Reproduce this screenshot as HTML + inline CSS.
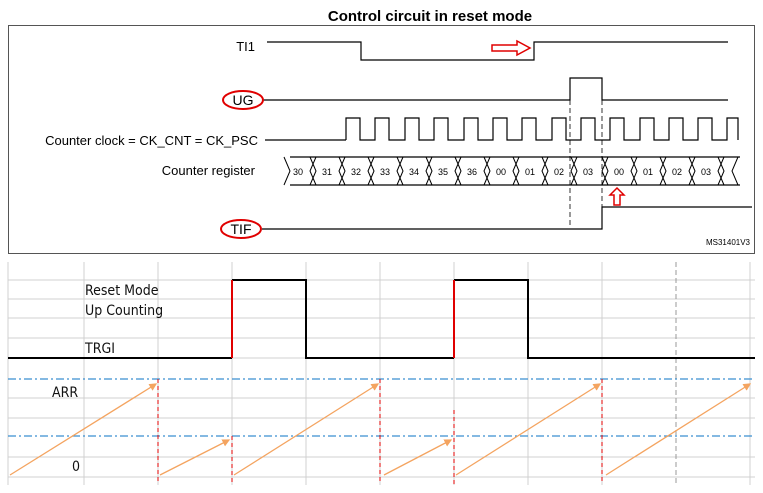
<!DOCTYPE html>
<html><head><style>body{margin:0;background:#fff}svg{display:block}</style></head><body>
<svg width="763" height="493" viewBox="0 0 763 493" xmlns="http://www.w3.org/2000/svg" font-family="Liberation Sans, Arial, sans-serif">
<defs><marker id="ar" markerWidth="6" markerHeight="6" refX="5" refY="3" orient="auto"><path d="M0,0 L6,3 L0,6 z" fill="#f4a460"/></marker></defs>
<text x="430" y="21" font-size="15" font-weight="bold" text-anchor="middle">Control circuit in reset mode</text>
<rect x="8.5" y="25.5" width="746" height="228" fill="none" stroke="#555"/>
<g fill="none" stroke="#000" stroke-width="1.2">
<path d="M267,42 H361 V60 H534 V42 H728"/>
<path d="M262,100 H570 V78 H602 V100 H728"/>
<path d="M265,140 H346"/>
<path d="M290,157 H732 M290,185 H732 M732,157 H740 M732,185 H740"/>
<path d="M262,229 H602 V207 H752"/>
</g>
<g fill="none" stroke="#000" stroke-width="1.2">
<path d="M346,140 V118 H360 V140 H375 V118 H389 V140 H405 V118 H419 V140 H434 V118 H448 V140 H464 V118 H478 V140 H493 V118 H507 V140 H522 V118 H536 V140 H552 V118 H566 V140 H581 V118 H595 V140 H610 V118 H624 V140 H640 V118 H654 V140 H669 V118 H683 V140 H698 V118 H712 V140 H727 V118 H738 V140"/>
</g>
<g fill="none" stroke="#000" stroke-width="1">
<path d="M284,157 L290,171 L284,185"/>
<path d="M738,157 L732,171 L738,185"/>
</g>
<g font-size="9" text-anchor="middle">
<text x="298" y="175">30</text><text x="327" y="175">31</text><text x="356" y="175">32</text><text x="385" y="175">33</text><text x="414" y="175">34</text><text x="443" y="175">35</text><text x="472" y="175">36</text><text x="501" y="175">00</text><text x="530" y="175">01</text><text x="559" y="175">02</text><text x="588" y="175">03</text><text x="619" y="175">00</text><text x="648" y="175">01</text><text x="677" y="175">02</text><text x="706" y="175">03</text>
</g>
<g stroke="#000" stroke-width="1" fill="none">
<path d="M310,157 L316,171 L310,185 M316,157 L310,171 L316,185"/>
<path d="M339,157 L345,171 L339,185 M345,157 L339,171 L345,185"/>
<path d="M368,157 L374,171 L368,185 M374,157 L368,171 L374,185"/>
<path d="M397,157 L403,171 L397,185 M403,157 L397,171 L403,185"/>
<path d="M426,157 L432,171 L426,185 M432,157 L426,171 L432,185"/>
<path d="M455,157 L461,171 L455,185 M461,157 L455,171 L461,185"/>
<path d="M484,157 L490,171 L484,185 M490,157 L484,171 L490,185"/>
<path d="M513,157 L519,171 L513,185 M519,157 L513,171 L519,185"/>
<path d="M542,157 L548,171 L542,185 M548,157 L542,171 L548,185"/>
<path d="M571,157 L577,171 L571,185 M577,157 L571,171 L577,185"/>
<path d="M602,157 L608,171 L602,185 M608,157 L602,171 L608,185"/>
<path d="M631,157 L637,171 L631,185 M637,157 L631,171 L637,185"/>
<path d="M660,157 L666,171 L660,185 M666,157 L660,171 L666,185"/>
<path d="M689,157 L695,171 L689,185 M695,157 L689,171 L695,185"/>
<path d="M718,157 L724,171 L718,185 M724,157 L718,171 L724,185"/>
</g>
<g stroke="#000" stroke-width="0.8" stroke-dasharray="5,3"><path d="M570,100 V225 M602,100 V225"/></g>
<g font-size="13" text-anchor="end">
<text x="255" y="51">TI1</text>
<text x="258" y="145">Counter clock = CK_CNT = CK_PSC</text>
<text x="255" y="175">Counter register</text>
</g>
<text x="243" y="105" font-size="14" text-anchor="middle">UG</text>
<text x="241" y="234" font-size="14" text-anchor="middle">TIF</text>
<g fill="none" stroke="#e00000" stroke-width="2">
<ellipse cx="243" cy="100" rx="20" ry="9"/>
<ellipse cx="241" cy="229" rx="20" ry="9"/>
</g>
<path d="M492,45 H517 V41 L530,48 L517,55 V51 H492 Z" fill="#fff" stroke="#e00000" stroke-width="1.5"/>
<path d="M614,205 V195 H610 L617,188 L624,195 H620 V205 Z" fill="#fff" stroke="#e00000" stroke-width="1.5"/>
<text x="750" y="245" font-size="8" text-anchor="end">MS31401V3</text>
<g stroke="#d0d0d0" stroke-width="1">
<path d="M8,262 V485 M84,262 V485 M158,262 V485 M232,262 V485 M306,262 V485 M380,262 V485 M454,262 V485 M528,262 V485 M602,262 V485 M750,262 V485"/>
<path d="M8,280 H755 M8,299 H755 M8,318 H755 M8,338 H755 M8,358 H755 M8,398 H755 M8,418 H755 M8,457 H755 M8,477 H755"/>
</g>
<path d="M676,262 V485" stroke="#999" stroke-dasharray="5,3"/>
<g font-size="14" font-family="DejaVu Sans Condensed, Liberation Sans Narrow, sans-serif" fill="#111">
<text x="85" y="295">Reset Mode</text>
<text x="85" y="315">Up Counting</text>
<text x="85" y="353">TRGI</text>
<text x="52" y="397">ARR</text>
<text x="72" y="471">0</text>
</g>
<path d="M8,358 H232 M232,280 H306 V358 H454 M454,280 H528 V358 H755" fill="none" stroke="#000" stroke-width="2"/>
<path d="M232,358 V280 M454,358 V280" stroke="#e00000" stroke-width="2"/>
<g stroke="#3a8fd0" stroke-width="1.2" stroke-dasharray="8,3,2,3"><path d="M8,379 H755 M8,436 H755"/></g>
<g stroke="#e00000" stroke-width="1" stroke-dasharray="4,3"><path d="M158,379 V484 M380,379 V484 M602,379 V484 M232,436 V484 M454,410 V484"/></g>
<g stroke="#f4a460" stroke-width="1.3" marker-end="url(#ar)">
<path d="M10,475 L156,384"/><path d="M160,475 L229,440"/><path d="M234,475 L378,384"/><path d="M384,475 L451,440"/><path d="M456,475 L600,384"/><path d="M606,475 L750,384"/>
</g>
</svg>
</body></html>
